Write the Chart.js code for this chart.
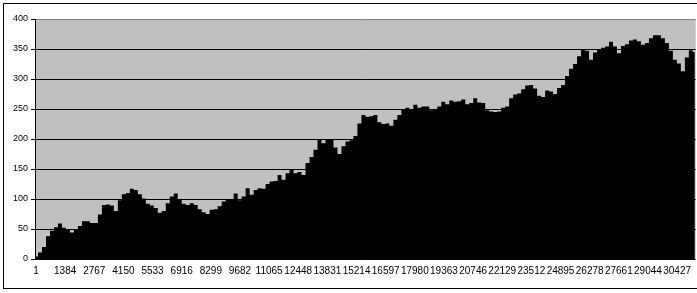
<!DOCTYPE html>
<html>
<head>
<meta charset="utf-8">
<script src="https://cdn.jsdelivr.net/npm/chart.js@4.4.1/dist/chart.umd.min.js"></script>
<style>
    html, body { margin: 0; padding: 0; background: #ffffff; overflow: hidden; }
    #chart { display: block; }
</style>
</head>
<body>
<canvas id="chart" width="697" height="293"></canvas>
<script>
// values, one every ~190 samples
const values = [
    4, 11, 20, 38, 47, 53, 59, 52, 50, 44, 50, 55, 63, 63, 60, 60, 74, 90, 91, 89,
    80, 98, 108, 110, 117, 115, 108, 101, 92, 89, 85,
    77, 80, 93, 104, 109, 99, 92, 90, 93, 90, 83, 78, 75, 82, 83, 88, 96, 100, 100,
    109, 98, 104, 118, 107, 115, 118, 117, 125, 129, 130, 140, 132, 143,
    150, 143, 145, 140, 160, 170, 182, 200, 193, 199, 199, 186, 175, 188, 196, 198,
    205, 226, 240, 237, 238, 240, 228, 225, 226, 222, 232, 240, 249, 252, 250, 257,
    252, 254, 254, 248, 250, 254, 262, 258, 264, 262, 263, 266, 258, 260, 268, 261,
    260, 248, 246, 245, 246, 252, 254, 268, 274, 276, 283, 289, 290, 284, 272, 270, 281,
    279, 275, 285, 290, 305, 317, 325, 338, 349, 347, 332, 344, 350, 352, 354, 362,
    354, 343, 355, 358, 364, 366, 363, 357, 360, 368, 373, 373, 368, 360, 347, 332,
    326, 313, 336, 348, 345
];
const sampleStep = 189.5;
const sampleIndex = values.map((v, i) => Math.round(1 + i * sampleStep));
const tickLabels = [1, 1384, 2767, 4150, 5533, 6916, 8299, 9682, 11065, 12448, 13831,
    15214, 16597, 17980, 19363, 20746, 22129, 23512, 24895, 26278, 27661, 29044, 30427];
const yTicks = [0, 50, 100, 150, 200, 250, 300, 350, 400];

const points = values.map((v, i) => ({x: sampleIndex[i], y: v}));

const excelFrame = {
    id: 'excelFrame',
    beforeDraw(chart) {
        const ctx = chart.ctx;
        const a = chart.chartArea;
        ctx.save();
        ctx.fillStyle = '#c0c0c0';
        ctx.fillRect(a.left, a.top, a.right - a.left, a.bottom - a.top);
        ctx.restore();
    },
    afterDraw(chart) {
        const ctx = chart.ctx;
        ctx.save();
        ctx.strokeStyle = '#000000';
        ctx.lineWidth = 1;
        ctx.strokeRect(3.5, 3.5, 800, 285);
        ctx.restore();
    }
};

new Chart(document.getElementById('chart').getContext('2d'), {
    type: 'line',
    data: {
        datasets: [{
            data: points,
            backgroundColor: '#000000',
            borderColor: '#000000',
            borderWidth: 0,
            pointRadius: 0,
            fill: 'origin',
            stepped: 'middle'
        }]
    },
    options: {
        responsive: false,
        devicePixelRatio: 1,
        animation: false,
        layout: {padding: {top: 19, left: 0, right: 0, bottom: 0}},
        plugins: {
            legend: {display: false},
            tooltip: {enabled: false}
        },
        scales: {
            x: {
                type: 'linear',
                min: -46,
                max: 31310,
                afterFit: scale => { scale.height = 34; },
                afterBuildTicks: axis => { axis.ticks = tickLabels.map(v => ({value: v})); },
                grid: {display: false, drawTicks: false},
                border: {display: false},
                ticks: {
                    autoSkip: false,
                    maxRotation: 0,
                    padding: 6,
                    color: '#000000',
                    font: {family: '"Liberation Sans", Arial, sans-serif', size: 10},
                    callback: v => String(v)
                }
            },
            y: {
                min: 0,
                max: 400,
                afterFit: scale => { scale.width = 35; },
                afterBuildTicks: axis => { axis.ticks = yTicks.map(v => ({value: v})); },
                grid: {
                    color: ctx => ctx.tick && ctx.tick.value === 400 ? '#808080' : '#000000',
                    lineWidth: 1,
                    drawTicks: true,
                    tickLength: 4,
                    tickColor: '#000000'
                },
                border: {display: true, color: '#000000', width: 1},
                ticks: {
                    padding: 3,
                    color: '#000000',
                    font: {family: '"Liberation Sans", Arial, sans-serif', size: 9}
                }
            }
        }
    },
    plugins: [excelFrame]
});
</script>
</body>
</html>
